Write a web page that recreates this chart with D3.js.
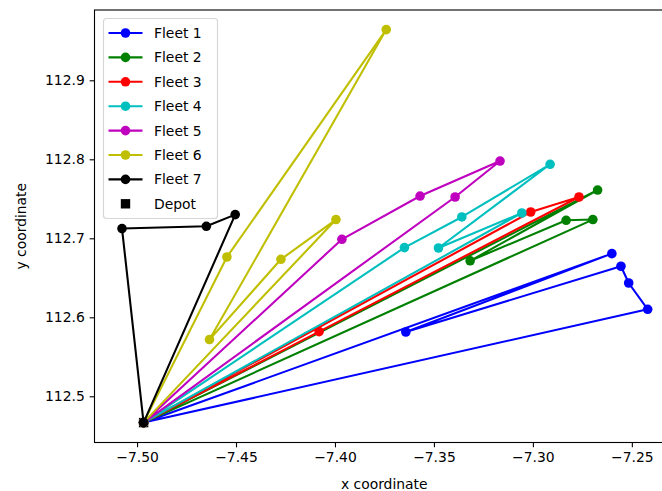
<!DOCTYPE html>
<html>
<head>
<meta charset="utf-8">
<script src="https://cdn.jsdelivr.net/npm/d3@7"></script>
<style>
  body { margin: 0; background: #fff; }
  svg { display: block; font-family: 'DejaVu Sans', sans-serif; }
</style>
</head>
<body>
<svg></svg>
<script>
const depot = [-7.4967, 112.4667]

// stops of each fleet, in visiting order (depot is added at both ends)
const fleet1 = [[-7.2601, 112.6806], [-7.3642, 112.5814], [-7.2555, 112.6646], [-7.2516, 112.6434], [-7.2420, 112.6101]]
const fleet2 = [[-7.2673, 112.7611], [-7.3317, 112.6715], [-7.2832, 112.7228], [-7.2697, 112.7237]]
const fleet3 = [[-7.4080, 112.5819], [-7.2767, 112.7523], [-7.3011, 112.7333]]
const fleet4 = [[-7.3649, 112.6882], [-7.3359, 112.7270], [-7.2913, 112.7937], [-7.3477, 112.6877], [-7.3056, 112.7320]]
const fleet5 = [[-7.3965, 112.6987], [-7.3570, 112.7535], [-7.3166, 112.7978], [-7.3393, 112.7523]]
const fleet6 = [[-7.4546, 112.6763], [-7.3741, 112.9642], [-7.4634, 112.5718], [-7.4273, 112.6734], [-7.3995, 112.7237]]
const fleet7 = [[-7.4504, 112.7300], [-7.4650, 112.7152], [-7.5076, 112.7123]]

const fleetNames = ['Fleet 1', 'Fleet 2', 'Fleet 3', 'Fleet 4', 'Fleet 5', 'Fleet 6', 'Fleet 7']
const xTicks = [-7.5, -7.45, -7.4, -7.35, -7.3, -7.25]
const yTicks = [112.5, 112.6, 112.7, 112.8, 112.9]

const fleets = [fleet1, fleet2, fleet3, fleet4, fleet5, fleet6, fleet7]
const colors = ['#0000ff', '#008000', '#ff0000', '#00bfbf', '#bf00bf', '#bfbf00', '#000000']

const width = 662,
  height = 491
const plot = { left: 94.5, top: 10, right: 674, bottom: 442.5 }
const markerR = 4.8,
  squareSide = 9.4

const xScale = d3.scaleLinear().domain([-7.5215, -7.2287]).range([plot.left, plot.right])
const yScale = d3.scaleLinear().domain([112.4415, 112.989]).range([plot.bottom, plot.top])

const svg = d3.select('svg').attr('width', width).attr('height', height)

// depot (drawn first, the route markers sit on top of it)
svg
  .append('rect')
  .attr('x', xScale(depot[0]) - squareSide / 2)
  .attr('y', yScale(depot[1]) - squareSide / 2)
  .attr('width', squareSide)
  .attr('height', squareSide)
  .attr('fill', '#000')

// routes
const line = d3
  .line()
  .x((d) => xScale(d[0]))
  .y((d) => yScale(d[1]))

fleets.forEach((stops, i) => {
  const route = [depot, ...stops, depot]
  const g = svg.append('g')
  g.append('path')
    .attr('d', line(route))
    .attr('fill', 'none')
    .attr('stroke', colors[i])
    .attr('stroke-width', 2.08)
    .attr('stroke-linejoin', 'round')
  g.selectAll('circle')
    .data(route)
    .enter()
    .append('circle')
    .attr('cx', (d) => xScale(d[0]))
    .attr('cy', (d) => yScale(d[1]))
    .attr('r', markerR)
    .attr('fill', colors[i])
})

// axes
const xAxis = d3
  .axisBottom(xScale)
  .tickValues(xTicks)
  .tickFormat(d3.format('.2f'))
  .tickSizeInner(4.86)
  .tickSizeOuter(0)
  .tickPadding(4.86)
const yAxis = d3
  .axisLeft(yScale)
  .tickValues(yTicks)
  .tickFormat(d3.format('.1f'))
  .tickSizeInner(4.86)
  .tickSizeOuter(0)
  .tickPadding(4.86)

const gx = svg.append('g').attr('transform', `translate(0, ${plot.bottom})`).call(xAxis)
const gy = svg.append('g').attr('transform', `translate(${plot.left}, 0)`).call(yAxis)
;[gx, gy].forEach((g) => {
  g.selectAll('.domain').remove()
  g.selectAll('line').attr('stroke', '#000').attr('stroke-width', 1.1)
  g.selectAll('text')
    .attr('fill', '#000')
    .style('font-size', '13.9px')
    .style('font-family', "'DejaVu Sans', sans-serif")
})

svg
  .append('rect')
  .attr('x', plot.left)
  .attr('y', plot.top)
  .attr('width', plot.right - plot.left)
  .attr('height', plot.bottom - plot.top)
  .attr('fill', 'none')
  .attr('stroke', '#000')
  .attr('stroke-width', 1.1)

svg
  .append('text')
  .attr('x', (plot.left + plot.right) / 2)
  .attr('y', 489)
  .attr('text-anchor', 'middle')
  .style('font-size', '13.9px')
  .text('x coordinate')

svg
  .append('text')
  .attr('transform', `translate(26, ${(plot.top + plot.bottom) / 2}) rotate(-90)`)
  .attr('text-anchor', 'middle')
  .style('font-size', '13.9px')
  .text('y coordinate')

// legend
const legend = svg.append('g')
legend
  .append('rect')
  .attr('x', 103.5)
  .attr('y', 18.5)
  .attr('width', 114)
  .attr('height', 200)
  .attr('rx', 3)
  .attr('fill', 'rgba(255,255,255,0.8)')
  .attr('stroke', 'rgba(204,204,204,0.8)')
  .attr('stroke-width', 1.1)

const rowY = (i) => 33 + i * 24.4

fleetNames.forEach((name, i) => {
  legend
    .append('line')
    .attr('x1', 108.5)
    .attr('x2', 142.5)
    .attr('y1', rowY(i))
    .attr('y2', rowY(i))
    .attr('stroke', colors[i])
    .attr('stroke-width', 2.08)
  legend
    .append('circle')
    .attr('cx', 125.5)
    .attr('cy', rowY(i))
    .attr('r', markerR)
    .attr('fill', colors[i])
  legend
    .append('text')
    .attr('x', 154)
    .attr('y', rowY(i))
    .attr('dy', '0.36em')
    .style('font-size', '13.9px')
    .text(name)
})

legend
  .append('rect')
  .attr('x', 125.5 - squareSide / 2)
  .attr('y', rowY(7) - squareSide / 2)
  .attr('width', squareSide)
  .attr('height', squareSide)
  .attr('fill', '#000')
legend
  .append('text')
  .attr('x', 154)
  .attr('y', rowY(7))
  .attr('dy', '0.36em')
  .style('font-size', '13.9px')
  .text('Depot')
</script>
</body>
</html>
